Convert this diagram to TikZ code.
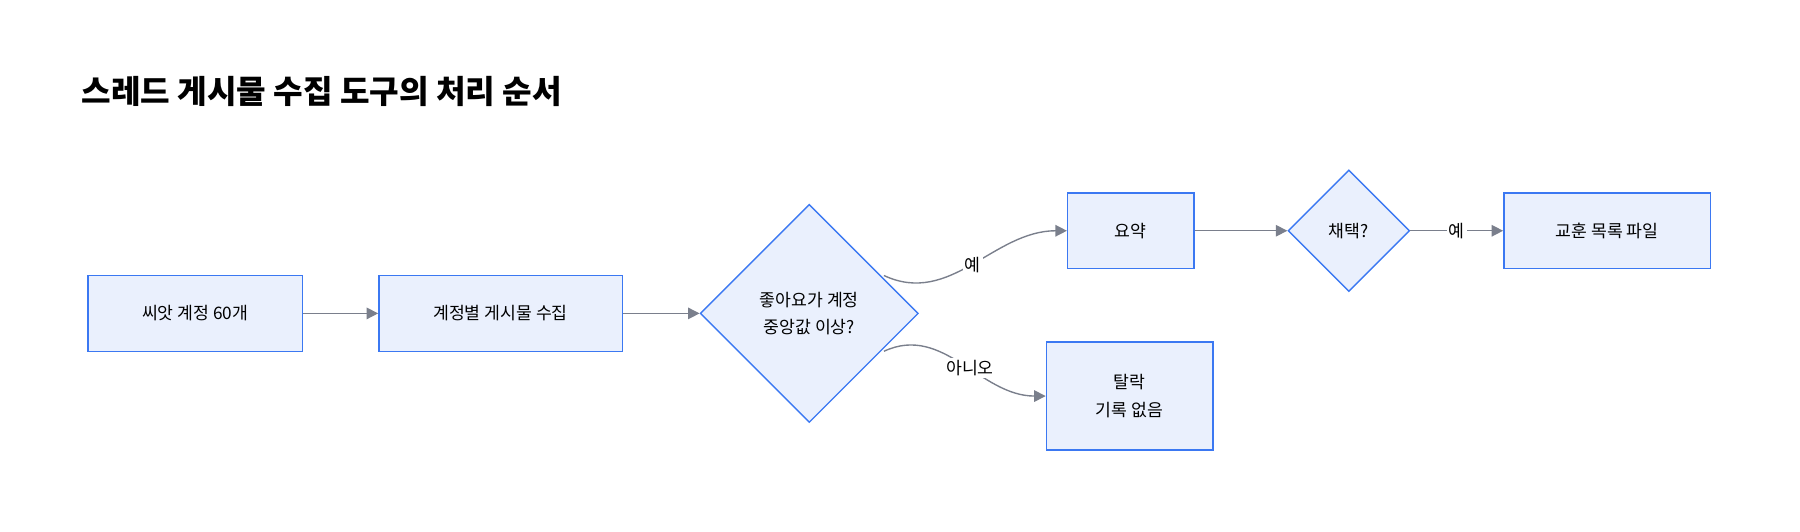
\documentclass[tikz,border=0pt]{standalone}
\usepackage{fontspec}
\setmainfont{Noto Sans CJK KR}
\usetikzlibrary{shapes.geometric,arrows.meta}
\definecolor{boxfill}{HTML}{EAF0FD}
\definecolor{boxline}{HTML}{3B78F2}
\definecolor{edgecol}{HTML}{7A7F8C}
\tikzset{
  stage/.style={draw=boxline,fill=boxfill,line width=0.6pt,align=center,font=\fontsize{7.5}{12}\selectfont,inner sep=0pt},
  ask/.style={stage,diamond,aspect=1},
  flow/.style={draw=edgecol,line width=0.6pt,-{Triangle[length=5pt,width=5pt]}},
  tag/.style={fill=white,font=\fontsize{7.5}{9}\selectfont,inner sep=1pt}
}
\begin{document}
\begin{tikzpicture}[x=0.5pt,y=-0.5pt]
  \useasboundingbox (0,0) rectangle (1568,463);
  \node[anchor=west,font=\fontsize{14}{16}\selectfont\bfseries] (title) at (64,80) {스레드 게시물 수집 도구의 처리 순서};
  \node[stage,minimum width=93.5pt,minimum height=33pt] (seed) at (170,273) {씨앗 계정 60개};
  \node[stage,minimum width=106pt,minimum height=33pt] (fetch) at (436,273) {계정별 게시물 수집};
  \node[ask,minimum width=95pt,minimum height=95pt] (likes) at (705,273) {좋아요가 계정\\중앙값 이상?};
  \node[stage,minimum width=55pt,minimum height=33pt] (sum) at (985,201) {요약};
  \node[ask,minimum width=53pt,minimum height=53pt] (pick) at (1175,201) {채택?};
  \node[stage,minimum width=90pt,minimum height=33pt] (lesson) at (1400,201) {교훈 목록 파일};
  \node[stage,minimum width=72.5pt,minimum height=47pt] (drop) at (984,345) {탈락\\기록 없음};
  \draw[flow] (seed) -- (fetch);
  \draw[flow] (fetch) -- (likes);
  \coordinate (la) at (770,240);
  \coordinate (lb) at (770,306);
  \draw[flow] (la) to[out=-25,in=180] node[tag,pos=0.5] {예} (sum);
  \draw[flow] (lb) to[out=25,in=180] node[tag,pos=0.55] {아니오} (drop);
  \draw[flow] (sum) -- (pick);
  \draw[flow] (pick) -- node[tag,pos=0.5] {예} (lesson);
\end{tikzpicture}
\end{document}
